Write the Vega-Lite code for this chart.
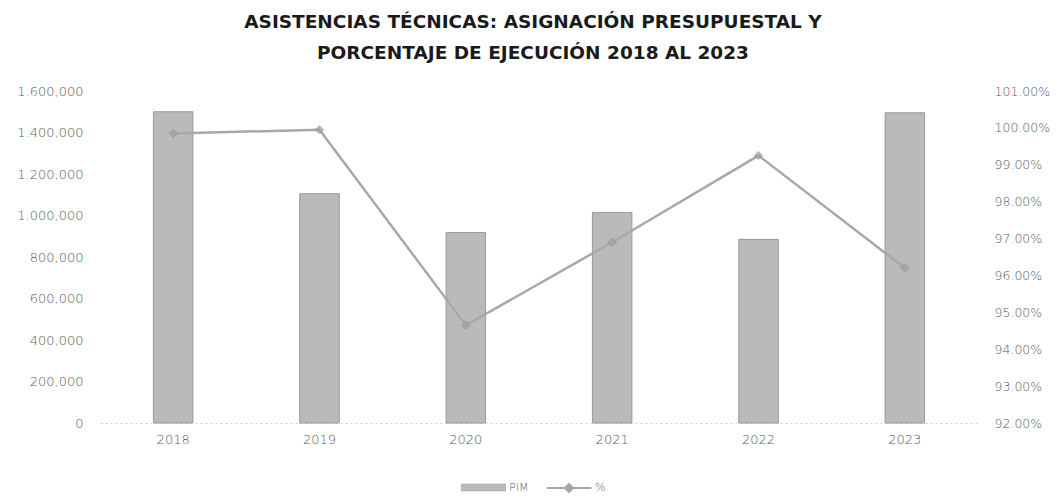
{
  "$schema": "https://vega.github.io/schema/vega-lite/v6.json",
  "autosize": "none",
  "padding": {"left": 100, "top": 91, "right": 81, "bottom": 74},
  "width": 878,
  "height": 332,
  "background": "white",
  "config": {"view": {"stroke": null}},
  "title": {
    "text": ["ASISTENCIAS TÉCNICAS: ASIGNACIÓN PRESUPUESTAL Y", "PORCENTAJE DE EJECUCIÓN 2018 AL 2023"],
    "font": "DejaVu Sans",
    "fontSize": 18.5,
    "fontWeight": "bold",
    "lineHeight": 31,
    "color": "#1a1a1a",
    "anchor": "middle",
    "dx": -6,
    "offset": 23
  },
  "data": {
    "values": [
      {"year": "2018", "pim": 1500000, "pct": 0.9985},
      {"year": "2019", "pim": 1105000, "pct": 0.9995},
      {"year": "2020", "pim": 918000, "pct": 0.9465},
      {"year": "2021", "pim": 1015000, "pct": 0.969},
      {"year": "2022", "pim": 885000, "pct": 0.9925},
      {"year": "2023", "pim": 1495000, "pct": 0.962}
    ]
  },
  "encoding": {
    "x": {
      "field": "year",
      "type": "ordinal",
      "title": null,
      "scale": {"paddingInner": 0.73, "paddingOuter": 0.365},
      "axis": {
        "labelAngle": 0,
        "labelFont": "DejaVu Sans",
        "labelFontWeight": 200,
        "labelFontSize": 13,
        "labelColor": "#5a5a5a",
        "labelPadding": 10,
        "ticks": false,
        "domainColor": "#cfcfcf",
        "domainDash": [2, 3],
        "domainWidth": 1
      }
    }
  },
  "layer": [
    {
      "mark": {"type": "bar", "stroke": "#9a9a9a", "strokeWidth": 1},
      "encoding": {
        "y": {
          "field": "pim",
          "type": "quantitative",
          "title": null,
          "scale": {"domain": [0, 1600000], "nice": false},
          "axis": {
            "values": [0, 200000, 400000, 600000, 800000, 1000000, 1200000, 1400000, 1600000],
            "labelExpr": "datum.value >= 1000000 ? substring(format(datum.value, ','), 0, 1) + '.' + substring(format(datum.value, ','), 2) : format(datum.value, ',')",
            "labelFont": "DejaVu Sans",
            "labelFontWeight": 200,
            "labelFontSize": 13,
            "labelColor": "#5a5a5a",
            "labelPadding": 17,
            "ticks": false,
            "domain": false,
            "grid": false
          }
        },
        "color": {
          "datum": "PIM",
          "type": "nominal",
          "scale": {"range": ["#bababa"]},
          "legend": {
            "orient": "none",
            "legendX": 378,
            "legendY": 391,
            "title": null,
            "symbolType": "M-4.4,-0.7H4.4V0.7H-4.4Z",
            "symbolSize": 100,
            "symbolStrokeColor": "#9a9a9a",
            "symbolStrokeWidth": 0.5,
            "labelOffset": 20,
            "labelFont": "DejaVu Sans",
            "labelFontWeight": 200,
            "labelFontSize": 11,
            "labelColor": "#5a5a5a"
          }
        }
      }
    },
    {
      "mark": {"type": "line", "strokeWidth": 2.5, "color": "#a8a8a8"},
      "encoding": {
        "y": {
          "field": "pct",
          "type": "quantitative",
          "title": null,
          "scale": {"domain": [0.92, 1.01], "nice": false, "zero": false},
          "axis": {
            "orient": "right",
            "values": [0.92, 0.93, 0.94, 0.95, 0.96, 0.97, 0.98, 0.99, 1.0, 1.01],
            "format": ".2%",
            "labelFont": "DejaVu Sans",
            "labelFontWeight": 200,
            "labelFontSize": 12.5,
            "labelColor": "#5a5a5a",
            "labelPadding": 16,
            "ticks": false,
            "domain": false,
            "grid": false
          }
        },
        "stroke": {
          "datum": "%",
          "type": "nominal",
          "scale": {"range": ["#a8a8a8"]},
          "legend": {
            "orient": "none",
            "legendX": 463,
            "legendY": 391,
            "title": null,
            "symbolType": "M-4.5,0H4.5M0,-0.8L0.8,0L0,0.8L-0.8,0Z",
            "symbolSize": 100,
            "symbolStrokeWidth": 2,
            "symbolFillColor": "#a8a8a8",
            "labelOffset": 20,
            "labelFont": "DejaVu Sans",
            "labelFontWeight": 200,
            "labelFontSize": 11,
            "labelColor": "#5a5a5a"
          }
        }
      }
    },
    {
      "mark": {"type": "point", "shape": "diamond", "filled": true, "size": 70, "color": "#a0a0a0", "stroke": "#8a8a8a", "strokeWidth": 0.8},
      "encoding": {
        "y": {"field": "pct", "type": "quantitative", "scale": {"domain": [0.92, 1.01], "nice": false, "zero": false}, "axis": null}
      }
    }
  ],
  "resolve": {"scale": {"y": "independent"}}
}
